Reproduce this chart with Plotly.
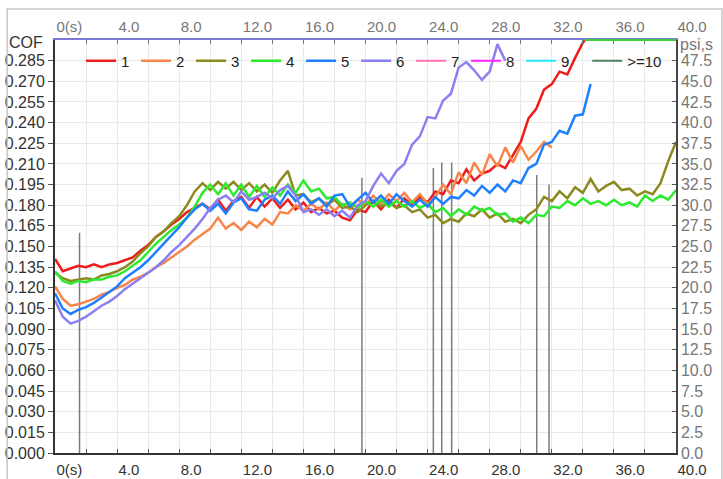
import plotly.graph_objects as go

# time axis (s), sampled every 0.5 s
T = [0, 0.5, 1, 1.5, 2, 2.5, 3, 3.5, 4, 4.5, 5, 5.5, 6, 6.5, 7, 7.5, 8, 8.5, 9, 9.5,
     10, 10.5, 11, 11.5, 12, 12.5, 13, 13.5, 14, 14.5, 15, 15.5, 16, 16.5, 17, 17.5, 18, 18.5, 19, 19.5,
     20, 20.5, 21, 21.5, 22, 22.5, 23, 23.5, 24, 24.5, 25, 25.5, 26, 26.5, 27, 27.5, 28, 28.5, 29, 29.5,
     30, 30.5, 31, 31.5, 32, 32.5, 33, 33.5, 34, 34.5, 35, 35.5, 36, 36.5, 37, 37.5, 38, 38.5, 39, 39.5, 40]

COF_1 = [0.141, 0.132, 0.134, 0.136, 0.135, 0.137, 0.135, 0.137, 0.138, 0.140,
         0.142, 0.147, 0.151, 0.157, 0.161, 0.166, 0.170, 0.175, 0.178, 0.181,
         0.177, 0.184, 0.176, 0.183, 0.186, 0.178, 0.186, 0.179, 0.185, 0.178,
         0.184, 0.177, 0.182, 0.175, 0.178, 0.174, 0.176, 0.171, 0.169, 0.177,
         0.175, 0.183, 0.177, 0.184, 0.178, 0.185, 0.180, 0.186, 0.182, 0.190,
         0.188, 0.198, 0.196, 0.206, 0.198, 0.203, 0.205, 0.210, 0.207, 0.216,
         0.226, 0.243, 0.250, 0.264, 0.268, 0.277, 0.275, 0.287, 0.298, 0.305]

COF_2 = [0.121, 0.112, 0.107, 0.108, 0.110, 0.112, 0.115, 0.117, 0.120, 0.122,
         0.126, 0.128, 0.131, 0.135, 0.138, 0.142, 0.146, 0.150, 0.155, 0.159,
         0.163, 0.171, 0.163, 0.167, 0.162, 0.168, 0.164, 0.170, 0.166, 0.175,
         0.174, 0.180, 0.176, 0.181, 0.177, 0.182, 0.176, 0.181, 0.177, 0.184,
         0.180, 0.187, 0.181, 0.188, 0.183, 0.189, 0.182, 0.188, 0.181, 0.186,
         0.195, 0.188, 0.204, 0.196, 0.211, 0.202, 0.217, 0.208, 0.222, 0.211,
         0.223, 0.213, 0.219, 0.226, 0.222]

COF_3 = [0.131, 0.127, 0.125, 0.126, 0.127, 0.126, 0.129, 0.130, 0.132, 0.135,
         0.139, 0.145, 0.150, 0.157, 0.161, 0.167, 0.172, 0.180, 0.190, 0.196,
         0.191, 0.197, 0.192, 0.197, 0.191, 0.196, 0.190, 0.195, 0.189, 0.198,
         0.205, 0.187, 0.188, 0.182, 0.185, 0.180, 0.184, 0.178, 0.179, 0.175,
         0.180, 0.183, 0.179, 0.182, 0.178, 0.180, 0.175, 0.177, 0.171, 0.173,
         0.167, 0.170, 0.168, 0.174, 0.172, 0.177, 0.171, 0.174, 0.168, 0.170,
         0.167, 0.173, 0.177, 0.186, 0.183, 0.190, 0.185, 0.193, 0.189, 0.199,
         0.190, 0.194, 0.197, 0.191, 0.192, 0.187, 0.190, 0.188, 0.196, 0.212, 0.226]

COF_4 = [0.132, 0.125, 0.123, 0.125, 0.124, 0.126, 0.126, 0.128, 0.129, 0.132,
         0.136, 0.140, 0.146, 0.152, 0.157, 0.162, 0.166, 0.171, 0.179, 0.189,
         0.195, 0.188, 0.196, 0.187, 0.195, 0.186, 0.194, 0.186, 0.193, 0.187,
         0.195, 0.189, 0.198, 0.190, 0.192, 0.185, 0.186, 0.180, 0.182, 0.178,
         0.183, 0.179, 0.184, 0.179, 0.183, 0.179, 0.183, 0.178, 0.181, 0.175,
         0.178, 0.172, 0.177, 0.173, 0.179, 0.176, 0.178, 0.173, 0.174, 0.168,
         0.171, 0.167, 0.173, 0.172, 0.179, 0.178, 0.183, 0.180, 0.185, 0.181,
         0.183, 0.180, 0.184, 0.180, 0.182, 0.179, 0.187, 0.183, 0.187, 0.184, 0.191]

COF_5 = [0.116, 0.105, 0.101, 0.104, 0.106, 0.109, 0.113, 0.117, 0.121, 0.127,
         0.131, 0.135, 0.140, 0.146, 0.152, 0.158, 0.164, 0.171, 0.177, 0.181,
         0.176, 0.181, 0.174, 0.182, 0.185, 0.177, 0.176, 0.184, 0.187, 0.181,
         0.190, 0.183, 0.188, 0.181, 0.185, 0.179, 0.187, 0.188, 0.179, 0.184,
         0.189, 0.182, 0.187, 0.181, 0.188, 0.183, 0.179, 0.184, 0.179, 0.186,
         0.181, 0.186, 0.185, 0.191, 0.187, 0.194, 0.189, 0.195, 0.190, 0.198,
         0.196, 0.207, 0.210, 0.224, 0.226, 0.234, 0.232, 0.245, 0.246, 0.268]

COF_6 = [0.111, 0.099, 0.094, 0.096, 0.099, 0.103, 0.107, 0.110, 0.114, 0.119,
         0.123, 0.127, 0.131, 0.135, 0.140, 0.146, 0.151, 0.157, 0.163, 0.170,
         0.178, 0.184, 0.187, 0.182, 0.190, 0.184, 0.186, 0.189, 0.185, 0.191,
         0.194, 0.187, 0.175, 0.177, 0.173, 0.177, 0.172, 0.176, 0.171, 0.180,
         0.183, 0.194, 0.203, 0.196, 0.205, 0.210, 0.224, 0.230, 0.244, 0.243,
         0.256, 0.261, 0.280, 0.284, 0.278, 0.271, 0.277, 0.297, 0.285]

# vertical event markers (s) and their heights (COF)
SPIKE_T = [1.58, 19.77, 24.37, 24.91, 25.55, 31.03, 31.82]
SPIKE_H = [0.160, 0.200, 0.207, 0.211, 0.211, 0.202, 0.195]

SERIES = ["1", "2", "3", "4", "5", "6", "7", "8", "9", ">=10"]
COLORS = ["#ee1c1c", "#f7864a", "#8c8a1e", "#2eea2e", "#1e80ff", "#8a80f2",
          "#ff6fb0", "#ff22ff", "#22e8ff", "#4f7f62"]
DATA = [COF_1, COF_2, COF_3, COF_4, COF_5, COF_6]

X_TICKS = [0, 4, 8, 12, 16, 20, 24, 28, 32, 36, 40]
X_TEXT = ["0(s)", "4.0", "8.0", "12.0", "16.0", "20.0", "24.0", "28.0", "32.0", "36.0", "40.0"]
Y_TICKS = [0, 0.015, 0.03, 0.045, 0.06, 0.075, 0.09, 0.105, 0.12, 0.135, 0.15, 0.165,
           0.18, 0.195, 0.21, 0.225, 0.24, 0.255, 0.27, 0.285]
Y_TEXT = ["0.000", "0.015", "0.030", "0.045", "0.060", "0.075", "0.090", "0.105", "0.120", "0.135",
          "0.150", "0.165", "0.180", "0.195", "0.210", "0.225", "0.240", "0.255", "0.270", "0.285"]
Y2_TICKS = [0, 2.5, 5, 7.5, 10, 12.5, 15, 17.5, 20, 22.5, 25, 27.5, 30, 32.5, 35, 37.5, 40, 42.5, 45, 47.5]
Y2_TEXT = ["0.0", "2.5", "5.0", "7.5", "10.0", "12.5", "15.0", "17.5", "20.0", "22.5", "25.0",
           "27.5", "30.0", "32.5", "35.0", "37.5", "40.0", "42.5", "45.0", "47.5"]

FONT = "Liberation Sans, Arial, sans-serif"

fig = go.Figure()

# event lines
sx, sy = [], []
for t, h in zip(SPIKE_T, SPIKE_H):
    sx += [t, t, None]
    sy += [0, h, None]
fig.add_trace(go.Scatter(x=sx, y=sy, mode="lines", line=dict(color="#7c7c7c", width=1.5),
                         showlegend=False, hoverinfo="skip"))

for name, color, vals in zip(SERIES[:6], COLORS[:6], DATA):
    fig.add_trace(go.Scatter(x=T[:len(vals)], y=vals, mode="lines", name=name,
                             line=dict(color=color, width=2.5)))
for name, color in zip(SERIES[6:], COLORS[6:]):
    fig.add_trace(go.Scatter(x=[None], y=[None], mode="lines", name=name,
                             legend="legend2" if name == ">=10" else "legend",
                             line=dict(color=color, width=2)))

# carrier for top / right axes
fig.add_trace(go.Scatter(x=[None], y=[None], xaxis="x2", yaxis="y2", showlegend=False,
                         hoverinfo="skip"))

grid = "#e9e9e9"
leg_common = dict(orientation="h", yanchor="middle", y=0.949, bgcolor="rgba(0,0,0,0)",
                  font=dict(size=15, color="#222"), tracegroupgap=0)
fig.update_layout(
    width=723, height=479,
    margin=dict(l=55, r=47, t=40, b=26),
    paper_bgcolor="white", plot_bgcolor="white",
    font=dict(family=FONT, size=15, color="#333"),
    showlegend=True,
    legend=dict(x=0.042, xanchor="left", entrywidth=10, entrywidthmode="pixels", **leg_common),
    legend2=dict(x=0.857, xanchor="left", **leg_common),
    xaxis=dict(range=[0, 40], tickmode="array", tickvals=X_TICKS, ticktext=X_TEXT,
               ticklabelposition="outside right", automargin=False, ticklabelstandoff=2,
               showgrid=True, gridcolor=grid, gridwidth=1,
               ticks="inside", ticklen=4, tickcolor="#555",
               minor=dict(tickmode="linear", tick0=0, dtick=2, showgrid=True, gridcolor=grid,
                          ticks="inside", ticklen=4, tickcolor="#555"),
               showline=True, linecolor="#333", linewidth=2, zeroline=False,
               tickfont=dict(size=15, color="#333")),
    xaxis2=dict(range=[0, 40], overlaying="x", side="top", tickmode="array", tickvals=X_TICKS,
                ticktext=X_TEXT, ticklabelposition="outside right", showgrid=False,
                automargin=False,
                ticks="inside", ticklen=4, tickcolor="#777",
                minor=dict(tickmode="linear", tick0=0, dtick=2, ticks="inside", ticklen=4,
                           tickcolor="#777"),
                showline=True, linecolor="#7b78d8", linewidth=2, zeroline=False,
                tickfont=dict(size=15, color="#777")),
    yaxis=dict(range=[0, 0.3], tickmode="array", tickvals=Y_TICKS, ticktext=Y_TEXT,
               automargin=False,
               showgrid=True, gridcolor=grid, ticks="outside", ticklen=5, tickcolor="#555",
               showline=True, linecolor="#333", linewidth=2, zeroline=False,
               tickfont=dict(size=16, color="#333")),
    yaxis2=dict(range=[0, 50], overlaying="y", side="right", tickmode="array", tickvals=Y2_TICKS,
                ticktext=Y2_TEXT, showgrid=False, ticks="inside", ticklen=4, tickcolor="#555",
                automargin=False,
                showline=True, linecolor="#444", linewidth=1.5, zeroline=False,
                tickfont=dict(size=16, color="#777")),
    annotations=[
        dict(text="COF", xref="paper", yref="paper", x=-0.077, y=0.995, xanchor="left",
             yanchor="middle", showarrow=False, font=dict(size=16, color="#333")),
        dict(text="psi,s", xref="paper", yref="paper", x=1.003, y=0.99, xanchor="left",
             yanchor="middle", showarrow=False, font=dict(size=16, color="#777")),
    ],
    shapes=[
        dict(type="line", xref="paper", yref="paper", x0=0.853, x1=1, y0=1, y1=1,
             line=dict(color="#3cd23c", width=2)),
        dict(type="rect", xref="paper", yref="paper", x0=-0.077, x1=1.074, y0=-0.2, y1=1.075,
             line=dict(color="#c8c8c8", width=1.5)),
    ],
)

fig.write_html("out.html", config={"displayModeBar": False},
               post_script="document.body.style.margin='0';document.body.style.overflow='hidden';")
